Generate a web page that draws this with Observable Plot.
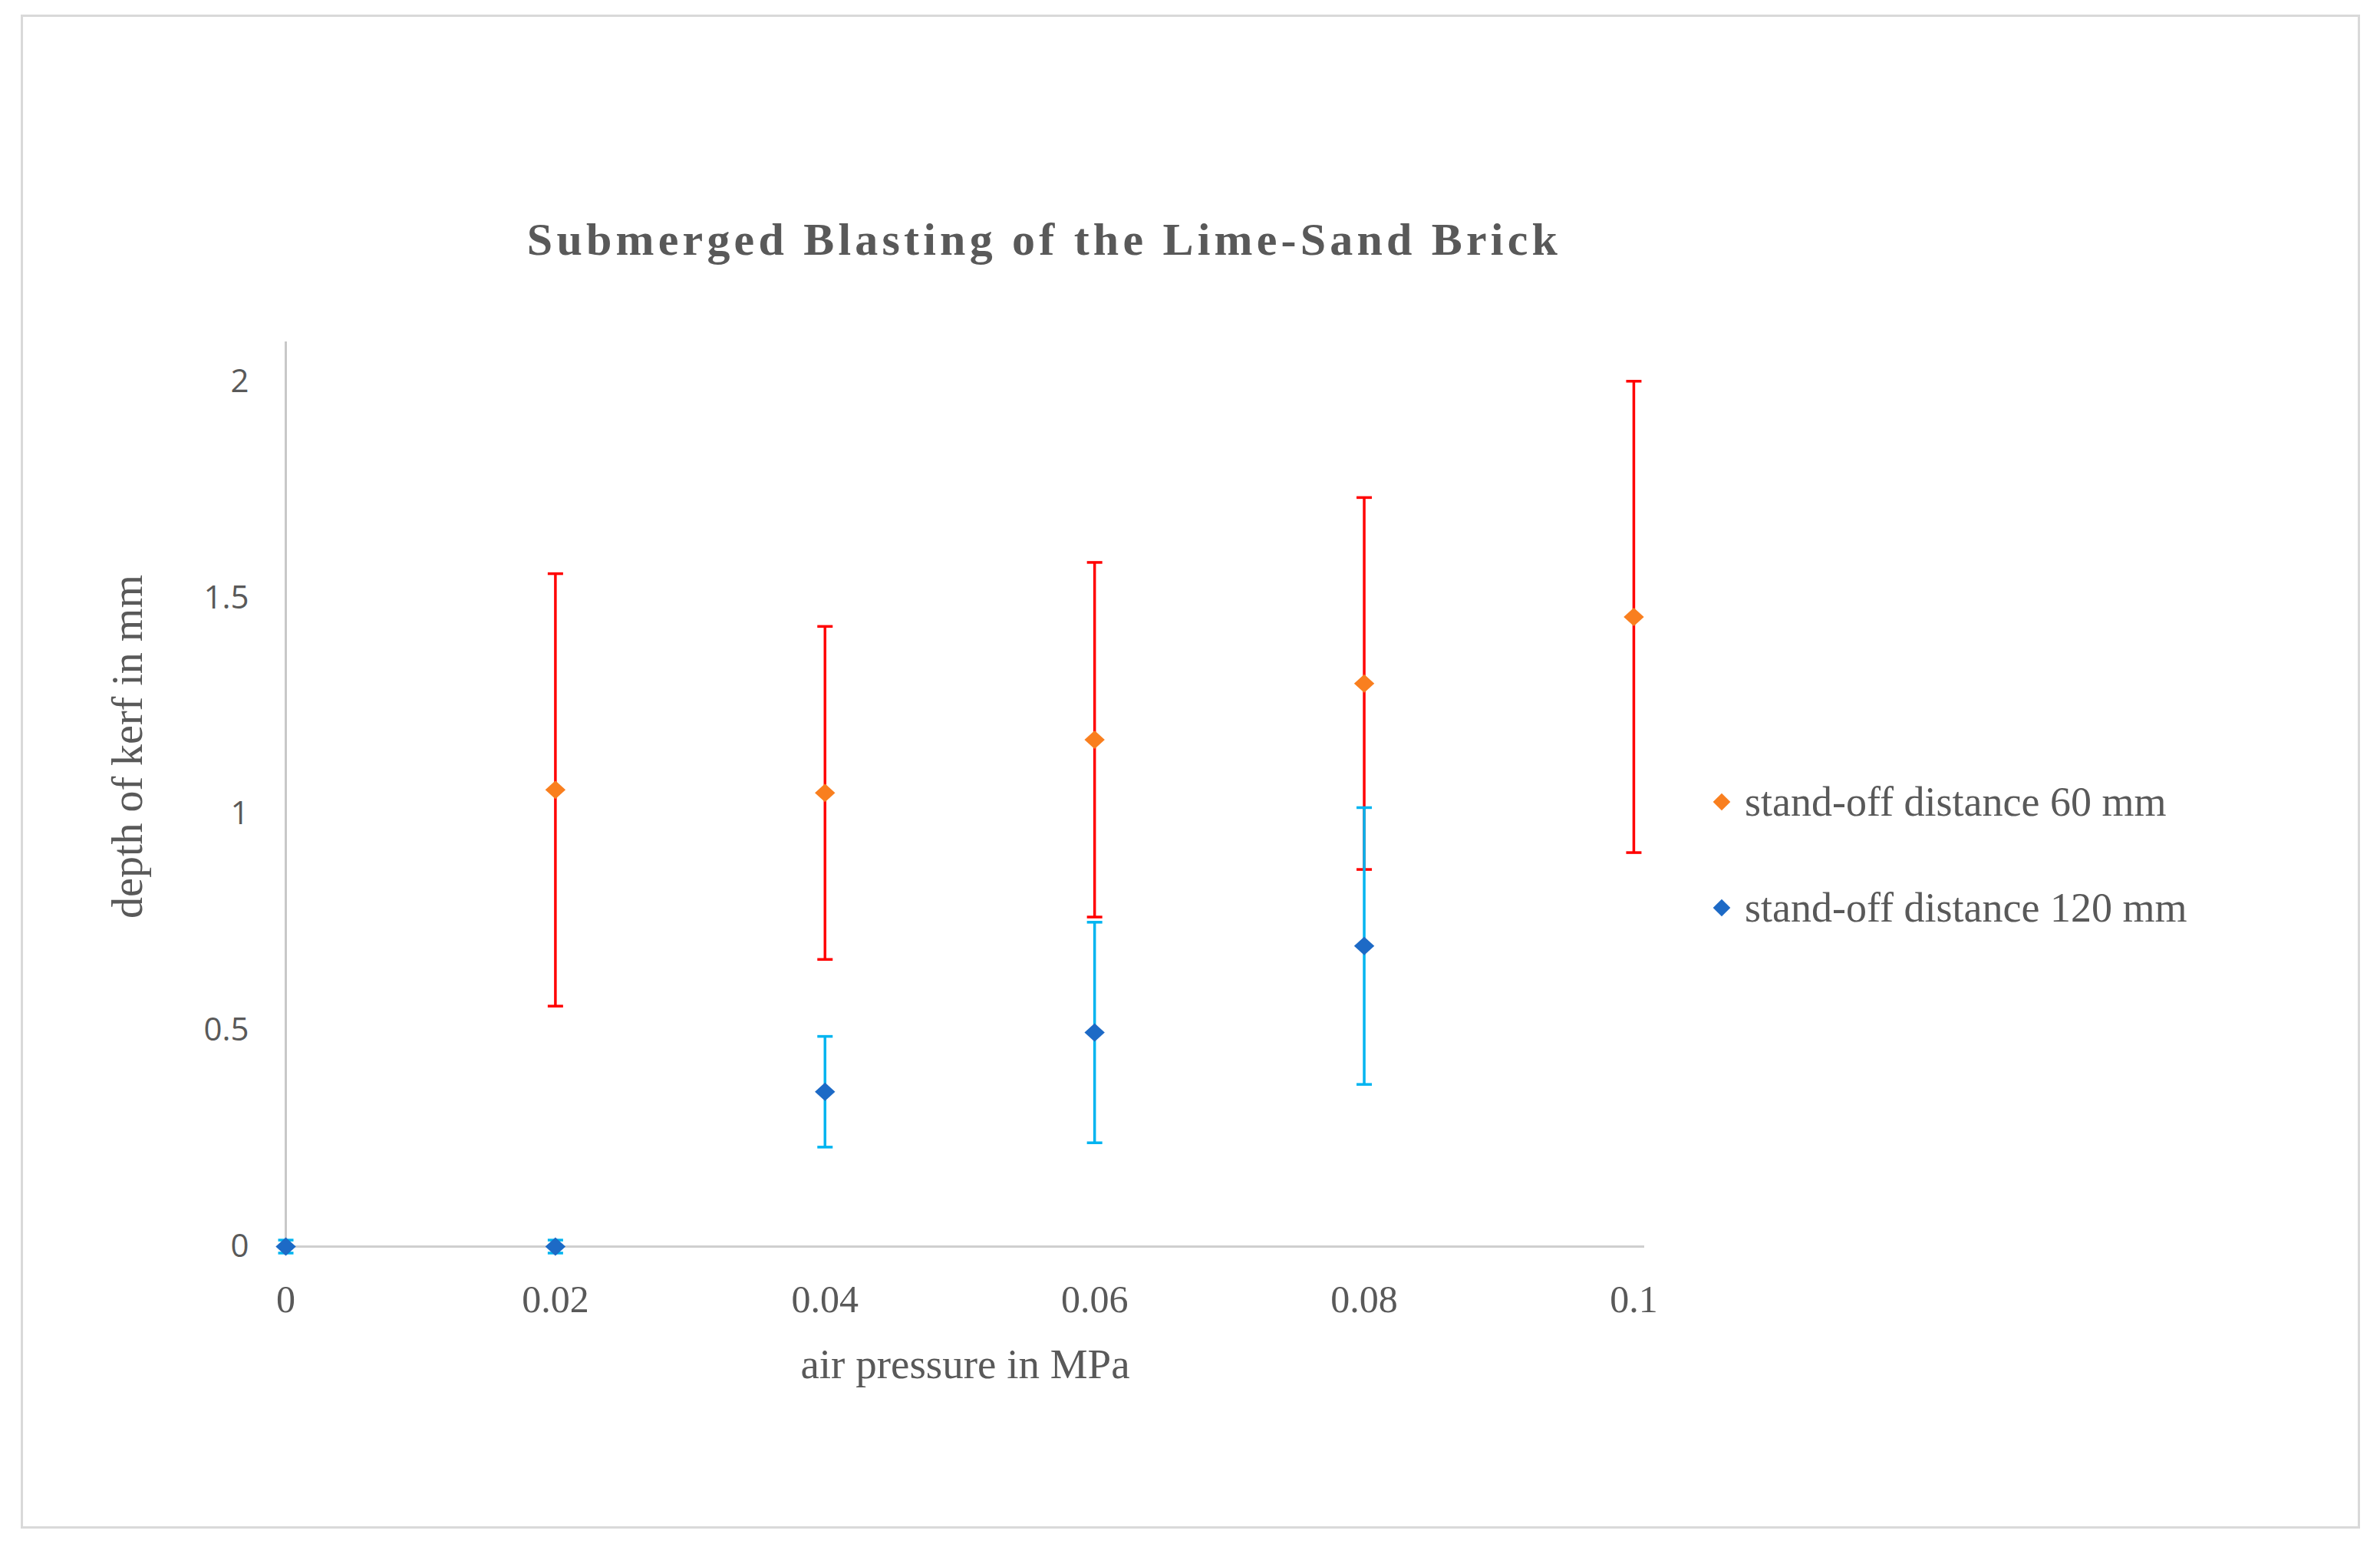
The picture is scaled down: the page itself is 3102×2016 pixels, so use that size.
<!DOCTYPE html>
<html>
<head>
<meta charset="utf-8">
<script src="https://cdn.jsdelivr.net/npm/d3@7"></script>
<script src="https://cdn.jsdelivr.net/npm/@observablehq/plot@0.6"></script>
<style>
  html, body { margin: 0; padding: 0; background: #fff; }
  #wrap { position: relative; width: 3102px; height: 2016px; overflow: hidden; background: #fff; }
  #frame { position: absolute; left: 27px; top: 19px; width: 3043px; height: 1967px; border: 3px solid #D9D9D9; box-sizing: content-box; }
  #chart { position: absolute; left: 0; top: 0; }
  .lbl { position: absolute; color: #595959; white-space: nowrap; font-family: "Liberation Serif", "DejaVu Serif", serif; }
  #title { left: 1361px; top: 312px; transform: translate(-50%, -50%); font-size: 60px; font-weight: bold; letter-spacing: 5.2px; }
  #ytitle { left: 166px; top: 973px; transform: translate(-50%, -50%) rotate(-90deg); font-size: 56px; }
  #xtitle { left: 1258px; top: 1777px; transform: translate(-50%, -50%); font-size: 55px; }
  .leg { position: absolute; left: 2230px; transform: translateY(-50%); display: flex; align-items: center; font-family: "Liberation Serif", "DejaVu Serif", serif; font-size: 54px; color: #595959; white-space: nowrap; }
  .leg .sw { width: 16px; height: 16px; transform: rotate(45deg); margin: 0 22px 0 6px; }
</style>
</head>
<body>
<div id="wrap">
  <div id="frame"></div>
  <div id="chart"></div>
  <div class="lbl" id="title"></div>
  <div class="lbl" id="ytitle"></div>
  <div class="lbl" id="xtitle"></div>
  <div id="legend"></div>
</div>
<script>
// ---- data ----
const titleText = "Submerged Blasting of the Lime-Sand Brick";
const xTitle = "air pressure in MPa";
const yTitle = "depth of kerf  in mm";
const seriesNames = ["stand-off distance 60 mm", "stand-off distance 120 mm"];

const pressure60 = [0.02, 0.04, 0.06, 0.08, 0.1];
const depth60    = [1.056, 1.049, 1.172, 1.302, 1.456];
const err60      = [0.50, 0.385, 0.41, 0.43, 0.545];

const pressure120 = [0, 0.02, 0.04, 0.06, 0.08];
const depth120    = [0, 0, 0.358, 0.495, 0.695];
const err120      = [0.015, 0.015, 0.128, 0.255, 0.32];

const xTicks = [0, 0.02, 0.04, 0.06, 0.08, 0.1];
const xTickLabels = ["0", "0.02", "0.04", "0.06", "0.08", "0.1"];
const yTicks = [0, 0.5, 1, 1.5, 2];
const yTickLabels = ["0", "0.5", "1", "1.5", "2"];

// ---- styles ----
const colors = { m60: "#F97F1F", m120: "#1D6AC6", e60: "#FF0000", e120: "#00B4F0" };

const s60 = pressure60.map((p, i) => ({p, v: depth60[i], e: err60[i]}));
const s120 = pressure120.map((p, i) => ({p, v: depth120[i], e: err120[i]}));

const capSymbol = {
  draw(ctx, size) { const r = Math.sqrt(size / Math.PI); ctx.moveTo(-r, 0); ctx.lineTo(r, 0); }
};
const diamond = {
  draw(ctx, size) {
    const r = Math.sqrt(size / Math.PI);
    ctx.moveTo(0, -r); ctx.lineTo(r * 1.1, 0); ctx.lineTo(0, r); ctx.lineTo(-r * 1.1, 0); ctx.closePath();
  }
};

function errMarks(data, color) {
  return [
    Plot.ruleX(data, {x: "p", y1: d => d.v - d.e, y2: d => d.v + d.e, stroke: color, strokeWidth: 3.5}),
    Plot.dot(data, {x: "p", y: d => d.v + d.e, symbol: capSymbol, r: 10, stroke: color, strokeWidth: 3.5, fill: "none"}),
    Plot.dot(data, {x: "p", y: d => d.v - d.e, symbol: capSymbol, r: 10, stroke: color, strokeWidth: 3.5, fill: "none"})
  ];
}

const plot = Plot.plot({
  width: 3102,
  height: 2016,
  marginLeft: 372,
  marginRight: 959,
  marginTop: 445,
  marginBottom: 392,
  style: { background: "transparent", overflow: "visible" },
  x: { domain: [0, 0.1008] },
  y: { domain: [0, 2.092] },
  marks: [
    Plot.ruleY([0], {stroke: "#CFCFCF", strokeWidth: 3}),
    Plot.ruleX([0], {stroke: "#C8C8C8", strokeWidth: 3}),
    Plot.axisX({ticks: xTicks, tickFormat: (d) => xTickLabels[xTicks.indexOf(d)], tickSize: 0, tickPadding: 50,
      fontSize: 50, fontFamily: "Liberation Serif, serif", fill: "#595959", label: null}),
    Plot.axisY({ticks: yTicks, tickFormat: (d) => yTickLabels[yTicks.indexOf(d)], tickSize: 0, tickPadding: 48,
      fontSize: 42, fontFamily: "Open Sans, sans-serif", fill: "#595959", label: null}),
    ...errMarks(s60, colors.e60),
    ...errMarks(s120, colors.e120),
    Plot.dot(s60, {x: "p", y: "v", symbol: diamond, r: 12, fill: colors.m60, stroke: "none"}),
    Plot.dot(s120, {x: "p", y: "v", symbol: diamond, r: 12, fill: colors.m120, stroke: "none"})
  ]
});
document.getElementById("chart").appendChild(plot);

document.getElementById("title").textContent = titleText;
document.getElementById("xtitle").textContent = xTitle;
document.getElementById("ytitle").textContent = yTitle;

const legend = document.getElementById("legend");
const legY = [1045, 1183];
const legCol = [colors.m60, colors.m120];
seriesNames.forEach((name, i) => {
  const row = document.createElement("div");
  row.className = "leg";
  row.style.top = legY[i] + "px";
  const sw = document.createElement("span");
  sw.className = "sw";
  sw.style.background = legCol[i];
  const t = document.createElement("span");
  t.textContent = name;
  row.appendChild(sw); row.appendChild(t);
  legend.appendChild(row);
});
</script>
</body>
</html>
